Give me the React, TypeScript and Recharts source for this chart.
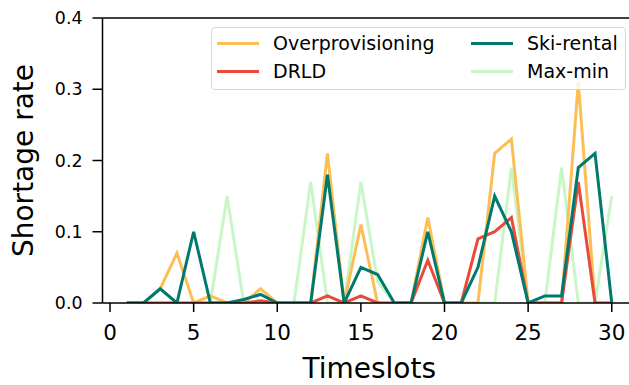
import React from 'react';
import { LineChart, Line, XAxis, YAxis, ReferenceLine } from 'recharts';

const timeslots = [1, 2, 3, 4, 5, 6, 7, 8, 9, 10, 11, 12, 13, 14, 15, 16, 17, 18, 19, 20, 21, 22, 23, 24, 25, 26, 27, 28, 29, 30];
const overprovisioning = [0, 0, 0.02, 0.07, 0, 0.01, 0, 0, 0.02, 0, 0, 0, 0.21, 0, 0.11, 0, 0, 0, 0.12, 0, 0, 0, 0.21, 0.23, 0, 0, 0, 0.31, 0, 0];
const drld = [0, 0, 0, 0, 0, 0, 0, 0, 0.003, 0, 0, 0, 0.01, 0, 0.01, 0, 0, 0, 0.06, 0, 0, 0.09, 0.1, 0.12, 0, 0, 0, 0.17, 0, 0];
const skiRental = [0, 0, 0.02, 0, 0.1, 0, 0, 0.005, 0.012, 0, 0, 0, 0.18, 0, 0.05, 0.04, 0, 0, 0.1, 0, 0, 0.05, 0.15, 0.1, 0, 0.01, 0.01, 0.19, 0.21, 0];
const maxMin = [0, 0, 0, 0, 0, 0, 0.15, 0, 0, 0, 0, 0.17, 0, 0, 0.17, 0.03, 0, 0, 0, 0, 0, 0, 0, 0.19, 0, 0, 0.19, 0, 0, 0.15];

const xTicks = [0, 5, 10, 15, 20, 25, 30];
const yTicks = [0, 0.1, 0.2, 0.3, 0.4];

const seriesNames = ['Overprovisioning', 'DRLD', 'Ski-rental', 'Max-min'];
const seriesColors = ['#fbbf55', '#ea4a3a', '#00796e', '#c8f6c6'];

const data = timeslots.map((t, i) => ({
  t,
  over: overprovisioning[i],
  drld: drld[i],
  ski: skiRental[i],
  maxmin: maxMin[i],
}));

const FONT = '"DejaVu Sans", sans-serif';

const LegendBox = () => {
  const items = seriesNames.map((name, i) => ({ name, color: seriesColors[i], col: i < 2 ? 0 : 1, row: i % 2 }));
  return (
    <div
      style={{
        position: 'absolute',
        left: 211,
        top: 27,
        width: 413,
        height: 61,
        border: '1.5px solid #d6d6d6',
        borderRadius: 4,
        background: 'rgba(255,255,255,0.8)',
        fontFamily: FONT,
        fontSize: 19,
        color: '#000',
      }}
    >
      {items.map((it) => (
        <div
          key={it.name}
          style={{
            position: 'absolute',
            left: it.col === 0 ? 5 : 259,
            top: it.row === 0 ? 1 : 29,
            height: 28,
            display: 'flex',
            alignItems: 'center',
            whiteSpace: 'nowrap',
          }}
        >
          <span style={{ display: 'inline-block', width: 42, height: 3, background: it.color, marginRight: 14 }} />
          <span>{it.name}</span>
        </div>
      ))}
    </div>
  );
};

const YLabel = (props: any) => {
  const vb = props.viewBox || { x: 0, y: 0, width: 0, height: 0 };
  const cy = vb.y + vb.height / 2;
  const x = 33;
  return (
    <text x={x} y={cy} transform={`rotate(-90, ${x}, ${cy})`} textAnchor="middle" fontFamily={FONT} fontSize={28} fill="#000">
      Shortage rate
    </text>
  );
};

export default function App() {
  return (
    <div style={{ position: 'absolute', left: 0, top: 0, width: 629, height: 385, overflow: 'hidden', background: '#fff' }}>
      <LineChart width={660} height={385} data={data} margin={{ top: 18, right: 24, left: 0, bottom: 0 }}>
        <XAxis
          dataKey="t"
          type="number"
          domain={[-0.45, 31.45]}
          ticks={xTicks}
          allowDataOverflow
          height={82}
          axisLine={{ stroke: '#000', strokeWidth: 1.5 }}
          tickLine={{ stroke: '#000', strokeWidth: 1.5 }}
          tickSize={9}
          tickMargin={13}
          tick={{ fill: '#000', fontSize: 21.5, fontFamily: FONT }}
          label={{ value: 'Timeslots', position: 'insideBottom', offset: 7, fill: '#000', fontSize: 28, fontFamily: FONT }}
        />
        <YAxis
          type="number"
          domain={[0, 0.4]}
          ticks={yTicks}
          allowDataOverflow
          width={102.5}
          axisLine={{ stroke: '#000', strokeWidth: 1.5 }}
          tickLine={{ stroke: '#000', strokeWidth: 1.5 }}
          tickSize={10}
          tickMargin={10}
          tickFormatter={(v: number) => v.toFixed(1)}
          tick={{ fill: '#000', fontSize: 17.4, fontFamily: FONT }}
          label={<YLabel />}
        />
        <ReferenceLine y={0.4} stroke="#000" strokeWidth={1.5} />
        <Line dataKey="maxmin" name="Max-min" stroke={seriesColors[3]} strokeWidth={3} dot={false} isAnimationActive={false} />
        <Line dataKey="over" name="Overprovisioning" stroke={seriesColors[0]} strokeWidth={3} dot={false} isAnimationActive={false} />
        <Line dataKey="drld" name="DRLD" stroke={seriesColors[1]} strokeWidth={3} dot={false} isAnimationActive={false} />
        <Line dataKey="ski" name="Ski-rental" stroke={seriesColors[2]} strokeWidth={3} dot={false} isAnimationActive={false} />
      </LineChart>
      <LegendBox />
    </div>
  );
}
